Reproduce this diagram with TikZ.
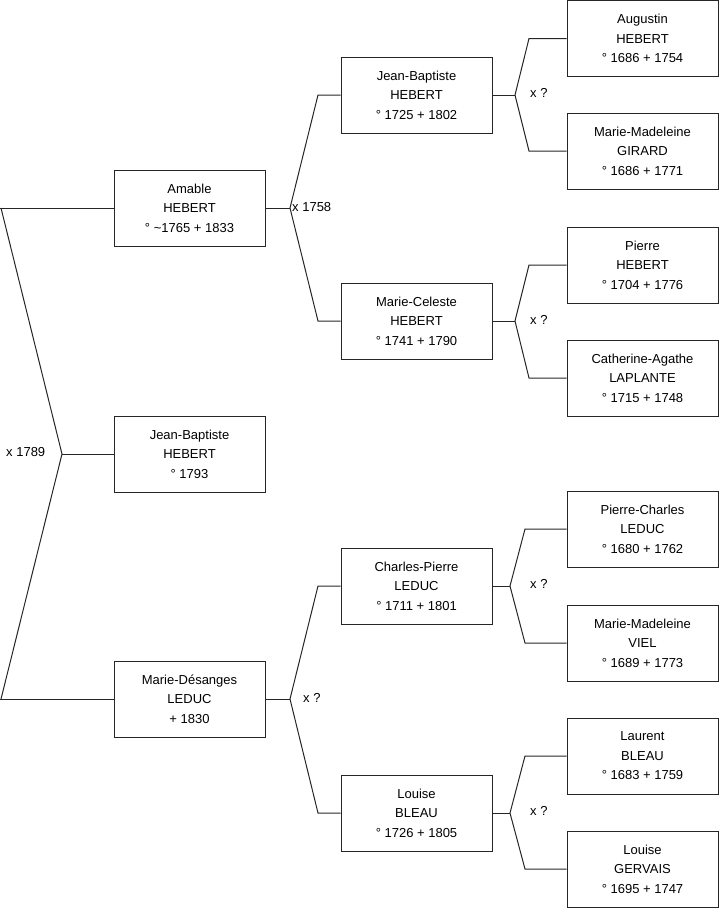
\documentclass[tikz,border=0pt]{standalone}
\usepackage{fontspec}
\setmainfont{Liberation Sans}
\begin{document}
\begin{tikzpicture}[x=1pt,y=-1pt,
  person/.style={draw=black!85,line width=1pt,rectangle,minimum width=151pt,minimum height=76pt,inner sep=0pt,align=center,font=\fontsize{13}{19.5}\selectfont},
  link/.style={draw=black!85,line width=1pt},
  union/.style={anchor=west,inner sep=0pt,font=\fontsize{13}{15}\selectfont}]
\useasboundingbox (0,0) rectangle (719,908);
% generation 1
\node[person] (amable) at (189.5,208) {Amable\\HEBERT\\° \textasciitilde1765 + 1833};
\node[person] (jb1) at (189.5,454) {Jean-Baptiste\\HEBERT\\° 1793};
\node[person] (md) at (189.5,699) {Marie-Désanges\\LEDUC\\+ 1830};
% generation 2
\node[person] (jb2) at (416.5,95) {Jean-Baptiste\\HEBERT\\° 1725 + 1802};
\node[person] (mc) at (416.5,321) {Marie-Celeste\\HEBERT\\° 1741 + 1790};
\node[person] (cp) at (416.5,586) {Charles-Pierre\\LEDUC\\° 1711 + 1801};
\node[person] (lb) at (416.5,813) {Louise\\BLEAU\\° 1726 + 1805};
% generation 3
\node[person] (aug) at (642.5,38.5) {Augustin\\HEBERT\\° 1686 + 1754};
\node[person] (mmg) at (642.5,151) {Marie-Madeleine\\GIRARD\\° 1686 + 1771};
\node[person] (pie) at (642.5,265) {Pierre\\HEBERT\\° 1704 + 1776};
\node[person] (cal) at (642.5,378) {Catherine-Agathe\\LAPLANTE\\° 1715 + 1748};
\node[person] (pcl) at (642.5,529) {Pierre-Charles\\LEDUC\\° 1680 + 1762};
\node[person] (mmv) at (642.5,643) {Marie-Madeleine\\VIEL\\° 1689 + 1773};
\node[person] (lab) at (642.5,756) {Laurent\\BLEAU\\° 1683 + 1759};
\node[person] (lgv) at (642.5,869) {Louise\\GERVAIS\\° 1695 + 1747};
% root union
\coordinate (v0) at (62,454);
\coordinate (v0a) at (1,208);
\coordinate (v0b) at (1,699);
\draw[link] (amable.west) -- (0,208) coordinate (h0a);
\draw[link] (v0a) -- (v0) -- (v0b);
\draw[link] (md.west) -- (0,699) coordinate (h0b);
\draw[link] (v0) -- (jb1.west);
\node[union] (u0) at (6,452) {x 1789};
% Amable's parents
\coordinate (v1) at (290,208);
\coordinate (v1a) at (318,95);
\coordinate (v1b) at (318,321);
\draw[link] (amable.east) -- (v1);
\draw[link] (jb2.west) -- (v1a) -- (v1) -- (v1b) -- (mc.west);
\node[union] (u1) at (292,207) {x 1758};
% Marie-Désanges' parents
\coordinate (v2) at (290,699);
\coordinate (v2a) at (318,586);
\coordinate (v2b) at (318,813);
\draw[link] (md.east) -- (v2);
\draw[link] (cp.west) -- (v2a) -- (v2) -- (v2b) -- (lb.west);
\node[union] (u2) at (303,698) {x ?};
% Jean-Baptiste's parents
\coordinate (v3) at (515,95);
\coordinate (v3a) at (529,38.5);
\coordinate (v3b) at (529,151);
\draw[link] (jb2.east) -- (v3);
\draw[link] (aug.west) -- (v3a) -- (v3) -- (v3b) -- (mmg.west);
\node[union] (u3) at (530,93) {x ?};
% Marie-Celeste's parents
\coordinate (v4) at (515,321);
\coordinate (v4a) at (529,265);
\coordinate (v4b) at (529,378);
\draw[link] (mc.east) -- (v4);
\draw[link] (pie.west) -- (v4a) -- (v4) -- (v4b) -- (cal.west);
\node[union] (u4) at (530,320) {x ?};
% Charles-Pierre's parents
\coordinate (v5) at (510,586);
\coordinate (v5a) at (525,529);
\coordinate (v5b) at (525,643);
\draw[link] (cp.east) -- (v5);
\draw[link] (pcl.west) -- (v5a) -- (v5) -- (v5b) -- (mmv.west);
\node[union] (u5) at (530,584) {x ?};
% Louise's parents
\coordinate (v6) at (510,813);
\coordinate (v6a) at (525,756);
\coordinate (v6b) at (525,869);
\draw[link] (lb.east) -- (v6);
\draw[link] (lab.west) -- (v6a) -- (v6) -- (v6b) -- (lgv.west);
\node[union] (u6) at (530,811) {x ?};
\end{tikzpicture}
\end{document}
